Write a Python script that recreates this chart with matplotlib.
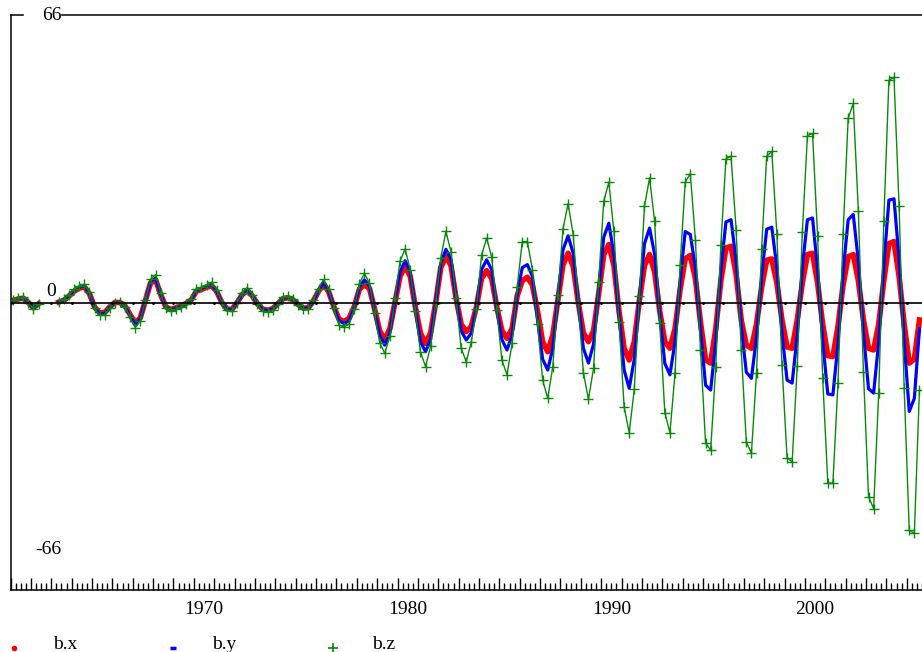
import numpy as np
import matplotlib
matplotlib.use("Agg")
import matplotlib.pyplot as plt
from matplotlib.lines import Line2D
from matplotlib.transforms import blended_transform_factory

plt.rcParams['font.family'] = ['Liberation Serif', 'DejaVu Serif']

nan = np.nan
start_year = 1961
series_names = ["b.x", "b.y", "b.z"]
label_years = [1970, 1980, 1990, 2000]
y_tick_labels = ["66", "0", "-66"]

b_x = [
    0.5, 0.8, 1.0, 0.0, -1.2, -0.3, nan, nan, nan, 0.1,
    0.5, 1.5, 2.6, 3.3, 3.6, 2.0, -1.0, -2.4, -2.3, -1.0,
    0.0, 0.0, -0.8, -2.8, -4.8, -3.5, 0.5, 4.5, 5.2, 1.8,
    -1.0, -1.6, -1.2, -0.8, -0.2, 0.6, 2.6, 3.0, 3.5, 3.9,
    2.5, 0.0, -1.5, -1.6, 0.0, 1.8, 2.8, 1.5, -0.3, -1.5,
    -1.8, -1.4, -0.3, 0.9, 1.1, 0.6, -0.5, -1.3, -1.2, 0.4,
    2.6, 4.3, 2.4, -1.0, -3.8, -4.4, -3.6, -1.0, 3.0, 4.1,
    3.2, -1.5, -6.5, -8.6, -6.0, 0.0, 6.0, 8.3, 6.0, -1.0,
    -7.0, -9.4, -7.0, 0.0, 8.0, 10.6, 8.5, 1.0, -5.0, -6.7,
    -5.5, -1.0, 5.5, 7.3, 5.5, -1.0, -6.5, -8.2, -6.0, 1.5,
    5.0, 5.8, 4.0, -2.0, -9.0, -11.3, -7.5, 0.6, 8.7, 11.3,
    8.3, 0.0, -7.0, -9.0, -6.5, 2.0, 11.0, 13.3, 8.5, -2.0,
    -10.5, -13.2, -9.0, 0.5, 8.5, 11.0, 7.0, -2.0, -9.0, -10.5,
    -6.0, 3.0, 10.0, 10.8, 5.5, -4.5, -13.2, -13.9, -6.0, 5.0,
    12.5, 12.9, 6.5, -4.0, -9.8, -10.5, -5.0, 3.5, 9.7, 10.0,
    4.5, -4.0, -10.2, -10.5, -4.0, 4.5, 11.0, 11.3, 4.5, -5.0,
    -12.2, -12.4, -5.5, 4.0, 10.5, 11.0, 5.0, -4.0, -10.5, -10.9,
    -5.0, 5.0, 13.5, 14.0, 6.0, -5.0, -13.9, -13.0, -4.0,
]

b_y = [
    0.5, 0.9, 1.1, 0.0, -1.3, -0.3, nan, nan, nan, 0.1,
    0.6, 1.6, 2.8, 3.5, 3.8, 2.1, -1.1, -2.6, -2.5, -1.1,
    0.0, 0.0, -0.9, -3.0, -5.1, -3.7, 0.5, 4.8, 5.6, 1.9,
    -1.1, -1.7, -1.3, -0.9, -0.2, 0.6, 2.8, 3.2, 3.7, 4.1,
    2.6, 0.0, -1.6, -1.7, 0.0, 1.9, 3.0, 1.6, -0.3, -1.6,
    -1.9, -1.5, -0.3, 1.0, 1.2, 0.6, -0.5, -1.4, -1.3, 0.4,
    2.8, 4.6, 2.6, -1.1, -4.2, -4.8, -4.2, -1.2, 3.5, 5.2,
    3.8, -2.0, -7.5, -9.8, -7.0, 0.5, 7.0, 9.6, 7.0, -1.5,
    -9.0, -11.3, -8.5, 0.0, 9.0, 12.2, 10.0, 1.0, -6.5, -8.6,
    -7.0, -1.0, 7.5, 9.8, 7.5, -1.5, -8.5, -10.9, -7.5, 2.0,
    8.0, 8.7, 6.0, -4.0, -13.0, -15.5, -10.5, 1.0, 12.1, 15.3,
    11.3, 0.0, -10.5, -13.9, -9.5, 3.0, 15.0, 18.2, 11.0, -3.0,
    -15.5, -19.7, -13.0, 1.0, 13.5, 17.1, 11.0, -3.0, -14.0, -16.6,
    -9.0, 5.0, 16.3, 15.6, 8.0, -6.5, -19.0, -20.1, -9.0, 7.5,
    18.5, 19.0, 9.5, -5.5, -16.0, -17.4, -8.0, 6.0, 16.8, 17.3,
    8.0, -7.0, -17.8, -18.5, -7.5, 8.0, 19.0, 19.4, 7.5, -9.0,
    -21.0, -21.2, -9.5, 7.0, 19.0, 20.2, 9.5, -7.0, -19.8, -20.8,
    -9.0, 8.5, 23.5, 23.8, 10.0, -9.0, -25.0, -22.0, -6.0,
]

b_z = [
    0.6, 1.0, 1.3, 0.0, -1.5, -0.4, nan, nan, nan, 0.1,
    0.7, 1.8, 3.0, 3.8, 4.2, 2.3, -1.3, -2.9, -2.8, -1.2,
    0.0, 0.1, -1.0, -3.3, -5.8, -4.2, 0.6, 5.3, 6.4, 2.1,
    -1.3, -2.0, -1.5, -1.0, -0.3, 0.8, 3.1, 3.5, 4.1, 4.6,
    2.9, 0.0, -1.8, -2.0, 0.0, 2.2, 3.4, 1.8, -0.4, -1.9,
    -2.2, -1.7, -0.4, 1.2, 1.4, 0.7, -0.6, -1.6, -1.5, 0.5,
    3.2, 5.3, 3.0, -1.3, -5.2, -5.6, -5.0, -1.5, 4.3, 6.7,
    4.4, -2.5, -9.2, -11.7, -7.7, 1.0, 9.5, 12.3, 7.5, -2.0,
    -11.3, -14.7, -10.1, 0.0, 10.2, 16.3, 11.7, 1.0, -10.5, -13.6,
    -9.0, -1.5, 10.8, 14.8, 10.4, -1.7, -13.2, -16.6, -9.4, 3.5,
    14.0, 14.0, 7.5, -5.0, -17.8, -22.0, -14.7, 1.8, 16.9, 22.7,
    15.6, 0.0, -16.1, -22.2, -15.1, 4.8, 23.2, 27.6, 16.3, -4.4,
    -23.9, -29.9, -19.9, 1.4, 22.1, 28.6, 18.6, -4.8, -25.3, -29.9,
    -16.2, 8.7, 27.6, 29.6, 14.4, -10.9, -32.3, -33.9, -14.7, 13.3,
    33.0, 33.6, 16.7, -11.0, -32.0, -34.6, -16.2, 12.3, 33.6, 34.7,
    15.8, -14.3, -35.6, -36.6, -14.6, 16.1, 38.3, 38.8, 15.2, -17.4,
    -41.4, -41.5, -18.5, 15.8, 42.3, 45.7, 21.1, -15.9, -44.6, -47.3,
    -20.7, 18.8, 51.0, 51.7, 22.2, -19.7, -52.3, -53.0, -20.0,
]

n = len(b_x)
t = start_year + (np.arange(n) + 0.5) / 4.0

W, H = 922, 652
fig = plt.figure(figsize=(W / 100, H / 100), dpi=100)
left_px, right_px, top_px, bot_px = 10.5, 922, 15, 590
ax = fig.add_axes([left_px / W, (H - bot_px) / H, (right_px - left_px) / W, (bot_px - top_px) / H])

px_per_year = 20.44
ax.set_xlim(start_year, start_year + (right_px - left_px) / px_per_year)
ax.set_ylim(-66, 66)

red, blue, green = '#ff0000', '#0000ff', '#0a880a'
ax.plot(t, b_x, color=red, lw=4.0, solid_joinstyle='round', zorder=2)
ax.plot(t, b_y, color=blue, lw=2.3, zorder=3)
ax.plot(t, b_z, color=green, lw=1.0, marker='+', ms=7, mew=1.0, zorder=4)

ax.axhline(0, color='#111111', lw=1.3, zorder=6)
yrs = np.arange(start_year, 2006)
ax.plot(yrs, np.zeros_like(yrs), ls='none', marker='o', ms=1.1, color='black', zorder=7)

for s in ['top', 'right']:
    ax.spines[s].set_visible(False)
for s in ['left', 'bottom']:
    ax.spines[s].set_linewidth(1.1)
    ax.spines[s].set_color('black')

ax.set_yticks([])
ax.set_xticks(yrs)
ax.set_xticks(np.arange(start_year, 2006, 0.25), minor=True)
ax.tick_params(axis='x', which='major', direction='in', length=9, width=1.0, labelbottom=False, color='black')
ax.tick_params(axis='x', which='minor', direction='in', length=5, width=1.0, color='black')

trans = blended_transform_factory(ax.transData, ax.transAxes)
for yr in label_years:
    ax.text(yr + 0.5, -20 / (bot_px - top_px), str(yr), transform=trans,
            ha='center', va='center', fontsize=14)

# top border, interrupted by the "66" label
fy = 1 - top_px / H
fig.add_artist(Line2D([left_px / W, 23 / W], [fy, fy], color='black', lw=1.1))
fig.add_artist(Line2D([62 / W, 1.0], [fy, fy], color='black', lw=1.1))

for lab, (xc, yc) in zip(y_tick_labels, [(51.7, 16), (51.3, 291), (48.8, 549)]):
    fig.text(xc / W, 1 - yc / H, lab, ha='center', va='center', fontsize=14)

# legend
leg_specs = [
    (14, 53, series_names[0], dict(marker='o', ms=4, color=red, mew=0)),
    (173, 212, series_names[1], dict(marker='_', ms=5, color=blue, mew=2.5)),
    (333, 372, series_names[2], dict(marker='+', ms=7, color=green, mew=1.2)),
]
for mx, tx, lab, kw in leg_specs:
    fig.add_artist(Line2D([mx / W], [1 - 648 / H], ls='none', **kw))
    fig.text(tx / W, 1 - 649 / H, lab, ha='left', va='baseline', fontsize=14)

fig.savefig('out.png', dpi=100)
